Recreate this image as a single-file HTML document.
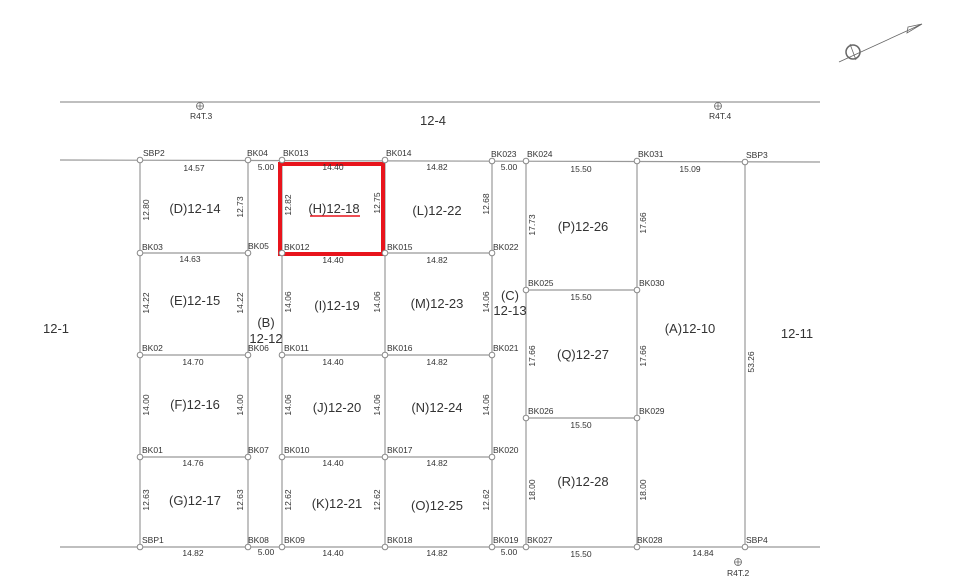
<!DOCTYPE html>
<html><head><meta charset="utf-8"><style>
html,body{margin:0;padding:0;background:#fff;}
svg{display:block;}
text{font-family:"Liberation Sans",sans-serif;fill:#333;}
.n{font-size:8.5px;}
.d{font-size:8.5px;text-anchor:middle;}
.l{font-size:13px;text-anchor:middle;}
</style></head><body>
<svg width="962" height="587" viewBox="0 0 962 587" xmlns="http://www.w3.org/2000/svg">
<g stroke="#999" stroke-width="1.2" fill="none">
<line x1="60" y1="102" x2="820" y2="102"/>
<line x1="60" y1="160" x2="820" y2="162"/>
<line x1="60" y1="547" x2="820" y2="547"/>
<line x1="140" y1="160" x2="140" y2="547"/>
<line x1="248" y1="160" x2="248" y2="547"/>
<line x1="282" y1="160" x2="282" y2="547"/>
<line x1="385" y1="160" x2="385" y2="547"/>
<line x1="492" y1="160" x2="492" y2="547"/>
<line x1="526" y1="161" x2="526" y2="547"/>
<line x1="637" y1="161" x2="637" y2="547"/>
<line x1="745" y1="162" x2="745" y2="547"/>
<line x1="140" y1="253" x2="248" y2="253"/><line x1="282" y1="253" x2="492" y2="253"/>
<line x1="140" y1="355" x2="248" y2="355"/><line x1="282" y1="355" x2="492" y2="355"/>
<line x1="140" y1="457" x2="248" y2="457"/><line x1="282" y1="457" x2="492" y2="457"/>
<line x1="526" y1="290" x2="637" y2="290"/>
<line x1="526" y1="418" x2="637" y2="418"/>
</g>
<rect x="280" y="164" width="103" height="90" fill="none" stroke="#e8141c" stroke-width="4"/>
<path d="M310 216 L360 216" stroke="#e8141c" stroke-width="1.5"/>
<g stroke="#888" stroke-width="1" fill="#fff">
<circle cx="140" cy="160" r="2.8"/><circle cx="248" cy="160" r="2.8"/><circle cx="282" cy="160" r="2.8"/><circle cx="385" cy="160" r="2.8"/><circle cx="492" cy="161" r="2.8"/><circle cx="526" cy="161" r="2.8"/><circle cx="637" cy="161" r="2.8"/><circle cx="745" cy="162" r="2.8"/>
<circle cx="140" cy="253" r="2.8"/><circle cx="248" cy="253" r="2.8"/><circle cx="282" cy="253" r="2.8"/><circle cx="385" cy="253" r="2.8"/><circle cx="492" cy="253" r="2.8"/>
<circle cx="140" cy="355" r="2.8"/><circle cx="248" cy="355" r="2.8"/><circle cx="282" cy="355" r="2.8"/><circle cx="385" cy="355" r="2.8"/><circle cx="492" cy="355" r="2.8"/>
<circle cx="140" cy="457" r="2.8"/><circle cx="248" cy="457" r="2.8"/><circle cx="282" cy="457" r="2.8"/><circle cx="385" cy="457" r="2.8"/><circle cx="492" cy="457" r="2.8"/>
<circle cx="140" cy="547" r="2.8"/><circle cx="248" cy="547" r="2.8"/><circle cx="282" cy="547" r="2.8"/><circle cx="385" cy="547" r="2.8"/><circle cx="492" cy="547" r="2.8"/><circle cx="526" cy="547" r="2.8"/><circle cx="637" cy="547" r="2.8"/><circle cx="745" cy="547" r="2.8"/>
<circle cx="526" cy="290" r="2.8"/><circle cx="637" cy="290" r="2.8"/><circle cx="526" cy="418" r="2.8"/><circle cx="637" cy="418" r="2.8"/>
</g>
<!-- survey markers -->
<g stroke="#666" stroke-width="0.8" fill="none">
<circle cx="200" cy="106" r="3.5"/><path d="M196.5 106h7M200 102.5v7"/>
<circle cx="718" cy="106" r="3.5"/><path d="M714.5 106h7M718 102.5v7"/>
<circle cx="738" cy="562" r="3.5"/><path d="M734.5 562h7M738 558.5v7"/>
<circle cx="853" cy="52" r="7" stroke-width="1.5"/>
<path d="M839 62 L922 24 M908 27 L922 24 L907 33 Z M850 44 L856 60"/>
</g>
<text class="n" x="190" y="119">R4T.3</text>
<text class="n" x="709" y="119">R4T.4</text>
<text class="n" x="727" y="576">R4T.2</text>
<!-- node labels -->
<g class="n">
<text class="n" x="143" y="156">SBP2</text><text class="n" x="247" y="156">BK04</text><text class="n" x="283" y="156">BK013</text><text class="n" x="386" y="156">BK014</text><text class="n" x="491" y="157">BK023</text><text class="n" x="527" y="157">BK024</text><text class="n" x="638" y="157">BK031</text><text class="n" x="746" y="158">SBP3</text>
<text class="n" x="142" y="250">BK03</text><text class="n" x="248" y="249">BK05</text><text class="n" x="284" y="250">BK012</text><text class="n" x="387" y="250">BK015</text><text class="n" x="493" y="250">BK022</text>
<text class="n" x="142" y="351">BK02</text><text class="n" x="248" y="351">BK06</text><text class="n" x="284" y="351">BK011</text><text class="n" x="387" y="351">BK016</text><text class="n" x="493" y="351">BK021</text>
<text class="n" x="142" y="453">BK01</text><text class="n" x="248" y="453">BK07</text><text class="n" x="284" y="453">BK010</text><text class="n" x="387" y="453">BK017</text><text class="n" x="493" y="453">BK020</text>
<text class="n" x="142" y="543">SBP1</text><text class="n" x="248" y="543">BK08</text><text class="n" x="284" y="543">BK09</text><text class="n" x="387" y="543">BK018</text><text class="n" x="493" y="543">BK019</text><text class="n" x="527" y="543">BK027</text><text class="n" x="637" y="543">BK028</text><text class="n" x="746" y="543">SBP4</text>
<text class="n" x="528" y="286">BK025</text><text class="n" x="639" y="286">BK030</text><text class="n" x="528" y="414">BK026</text><text class="n" x="639" y="414">BK029</text>
</g>
<!-- horizontal dims -->
<text class="d" x="194" y="171">14.57</text><text class="d" x="266" y="170">5.00</text><text class="d" x="333" y="170">14.40</text><text class="d" x="437" y="170">14.82</text><text class="d" x="509" y="170">5.00</text><text class="d" x="581" y="172">15.50</text><text class="d" x="690" y="172">15.09</text>
<text class="d" x="190" y="262">14.63</text><text class="d" x="333" y="263">14.40</text><text class="d" x="437" y="263">14.82</text>
<text class="d" x="193" y="365">14.70</text><text class="d" x="333" y="365">14.40</text><text class="d" x="437" y="365">14.82</text>
<text class="d" x="193" y="466">14.76</text><text class="d" x="333" y="466">14.40</text><text class="d" x="437" y="466">14.82</text>
<text class="d" x="581" y="300">15.50</text><text class="d" x="581" y="428">15.50</text>
<text class="d" x="193" y="556">14.82</text><text class="d" x="266" y="555">5.00</text><text class="d" x="333" y="556">14.40</text><text class="d" x="437" y="556">14.82</text><text class="d" x="509" y="555">5.00</text><text class="d" x="581" y="557">15.50</text><text class="d" x="703" y="556">14.84</text>
<!-- vertical dims -->
<g class="d">
<text class="d" transform="translate(149,210) rotate(-90)">12.80</text>
<text class="d" transform="translate(243,207) rotate(-90)">12.73</text>
<text class="d" transform="translate(291,205) rotate(-90)">12.82</text>
<text class="d" transform="translate(380,203) rotate(-90)">12.75</text>
<text class="d" transform="translate(489,204) rotate(-90)">12.68</text>
<text class="d" transform="translate(535,225) rotate(-90)">17.73</text>
<text class="d" transform="translate(646,223) rotate(-90)">17.66</text>
<text class="d" transform="translate(149,303) rotate(-90)">14.22</text>
<text class="d" transform="translate(243,303) rotate(-90)">14.22</text>
<text class="d" transform="translate(291,302) rotate(-90)">14.06</text>
<text class="d" transform="translate(380,302) rotate(-90)">14.06</text>
<text class="d" transform="translate(489,302) rotate(-90)">14.06</text>
<text class="d" transform="translate(535,356) rotate(-90)">17.66</text>
<text class="d" transform="translate(646,356) rotate(-90)">17.66</text>
<text class="d" transform="translate(754,362) rotate(-90)">53.26</text>
<text class="d" transform="translate(149,405) rotate(-90)">14.00</text>
<text class="d" transform="translate(243,405) rotate(-90)">14.00</text>
<text class="d" transform="translate(291,405) rotate(-90)">14.06</text>
<text class="d" transform="translate(380,405) rotate(-90)">14.06</text>
<text class="d" transform="translate(489,405) rotate(-90)">14.06</text>
<text class="d" transform="translate(535,490) rotate(-90)">18.00</text>
<text class="d" transform="translate(646,490) rotate(-90)">18.00</text>
<text class="d" transform="translate(149,500) rotate(-90)">12.63</text>
<text class="d" transform="translate(243,500) rotate(-90)">12.63</text>
<text class="d" transform="translate(291,500) rotate(-90)">12.62</text>
<text class="d" transform="translate(380,500) rotate(-90)">12.62</text>
<text class="d" transform="translate(489,500) rotate(-90)">12.62</text>
</g>
<!-- lot labels -->
<text class="l" x="195" y="213">(D)12-14</text><text class="l" x="334" y="213">(H)12-18</text><text class="l" x="437" y="215">(L)12-22</text><text class="l" x="583" y="231">(P)12-26</text>
<text class="l" x="195" y="305">(E)12-15</text><text class="l" x="337" y="310">(I)12-19</text><text class="l" x="437" y="308">(M)12-23</text><text class="l" x="583" y="359">(Q)12-27</text>
<text class="l" x="195" y="409">(F)12-16</text><text class="l" x="337" y="412">(J)12-20</text><text class="l" x="437" y="412">(N)12-24</text><text class="l" x="583" y="486">(R)12-28</text>
<text class="l" x="195" y="505">(G)12-17</text><text class="l" x="337" y="508">(K)12-21</text><text class="l" x="437" y="510">(O)12-25</text>
<text class="l" x="266" y="327">(B)</text><text class="l" x="266" y="343">12-12</text>
<text class="l" x="510" y="300">(C)</text><text class="l" x="510" y="315">12-13</text>
<text class="l" x="690" y="333">(A)12-10</text>
<text class="l" x="797" y="338">12-11</text>
<text class="l" x="56" y="333">12-1</text>
<text class="l" x="433" y="125">12-4</text>
</svg>
</body></html>
